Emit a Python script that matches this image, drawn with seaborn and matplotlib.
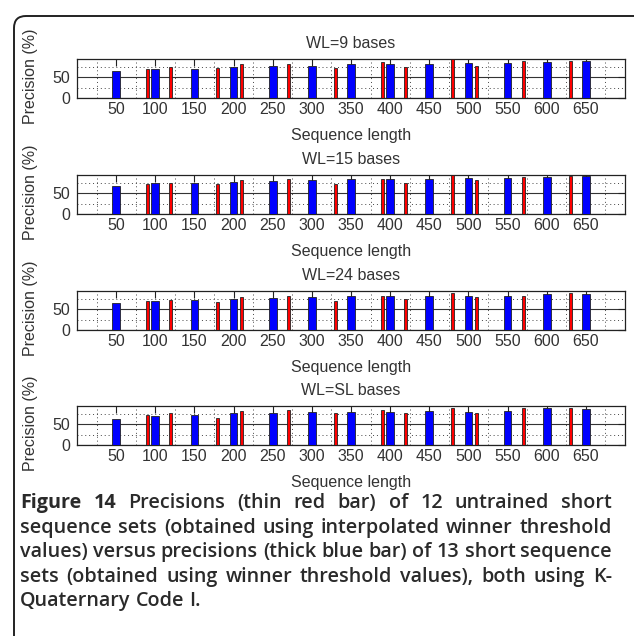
import matplotlib
matplotlib.use("Agg")
import matplotlib.pyplot as plt
from matplotlib.path import Path
from matplotlib.patches import PathPatch
import numpy as np
import seaborn as sns

sns.set_theme(style="white")
plt.rcParams['font.family'] = ['Liberation Sans', 'DejaVu Sans']

# ---- data ------------------------------------------------------------------
SET_LENGTHS = [50, 100, 150, 200, 250, 300, 350, 400, 450, 500, 550, 600, 650]
UNTRAINED_LENGTHS = [90, 120, 180, 210, 270, 330, 390, 420, 480, 510, 570, 630]

WL9_BLUE = [65, 71, 71, 75, 77, 79, 83, 83, 83, 85, 85, 87, 89]
WL9_RED = [70, 75, 72, 83, 83, 72, 87, 75, 94, 79, 90, 90]
WL15_BLUE = [67, 75, 75, 78, 80, 83, 85, 85, 85, 87, 87, 90, 92]
WL15_RED = [73, 75, 73, 83, 85, 73, 85, 75, 96, 83, 90, 92]
WL24_BLUE = [65, 70, 73, 75, 77, 80, 82, 82, 82, 84, 84, 87, 88]
WL24_RED = [70, 73, 67, 80, 82, 70, 84, 75, 89, 80, 84, 89]
WLSL_BLUE = [64, 71, 74, 77, 77, 81, 81, 81, 84, 81, 84, 89, 87]
WLSL_RED = [74, 77, 66, 84, 86, 77, 86, 77, 91, 79, 89, 91]

TITLES = ["WL=9 bases", "WL=15 bases", "WL=24 bases", "WL=SL bases"]
BLUES = [WL9_BLUE, WL15_BLUE, WL24_BLUE, WLSL_BLUE]
REDS = [WL9_RED, WL15_RED, WL24_RED, WLSL_RED]

CAPTION = [
    [("Figure", "bold"), ("14", "bold"), ("Precisions", "semibold"), ("(thin", "semibold"),
     ("red", "semibold"), ("bar)", "semibold"), ("of", "semibold"), ("12", "semibold"),
     ("untrained", "semibold"), ("short", "semibold")],
    "sequence sets (obtained using interpolated winner threshold",
    "values) versus precisions (thick blue bar) of 13 short sequence",
    "sets (obtained using winner threshold values), both using K-",
    "Quaternary Code I.",
]

W, H = 634, 636
TXT = '#333333'
FS = 11.5

fig = plt.figure(figsize=(W / 100, H / 100), dpi=100)

# panels
panel_tops = [59, 175, 291, 406]
ax_h = 39
for top, title, blue, red in zip(panel_tops, TITLES, BLUES, REDS):
    ax = fig.add_axes([77 / W, 1 - (top + ax_h) / H, 548 / W, ax_h / H])
    ax.set_axisbelow(True)
    sns.barplot(x=SET_LENGTHS, y=blue, native_scale=True, width=0.2,
                color='#0000ff', saturation=1, edgecolor='#222222',
                linewidth=0.6, errorbar=None, ax=ax, zorder=3)
    sns.barplot(x=UNTRAINED_LENGTHS, y=red, native_scale=True, width=0.13,
                color='#ff0000', saturation=1, edgecolor='#222222',
                linewidth=0.6, errorbar=None, ax=ax, zorder=3)
    ax.set_xlim(0, 700)
    ax.set_ylim(0, 95)
    ax.set_xticks(SET_LENGTHS)
    ax.set_xticklabels([str(v) for v in SET_LENGTHS])
    ax.set_yticks([0, 50])
    ax.set_xticks(np.arange(25, 700, 50), minor=True)
    ax.set_yticks([25, 75], minor=True)
    ax.grid(False)
    ax.grid(which='minor', linestyle=(0, (1, 3)), color='#444444', linewidth=0.7)
    ax.yaxis.grid(True, which='major', linestyle='-', color='#333333', linewidth=0.8)
    ax.tick_params(which='major', direction='in', top=True, right=True, length=5,
                   width=0.8, color='#222222', labelsize=FS, labelcolor=TXT, pad=5)
    ax.tick_params(axis='x', which='major', pad=3)
    ax.tick_params(which='minor', length=0)
    for s in ax.spines.values():
        s.set_visible(True)
        s.set_color('#222222')
        s.set_linewidth(0.9)
    ax.set_title(title, fontsize=FS, color=TXT, pad=8)
    ax.set_xlabel("Sequence length", fontsize=FS, color=TXT, labelpad=8)
    ax.set_ylabel("Precision (%)", fontsize=FS, color=TXT)
    ax.yaxis.set_label_coords(-0.072, 0.55)

# rounded frame (only top and left sides are visible)
fx = lambda px: px / W
fy = lambda py: 1 - py / H
verts = [(fx(14), fy(640)), (fx(14), fy(28)), (fx(14), fy(16)), (fx(26), fy(16)), (fx(640), fy(16))]
codes = [Path.MOVETO, Path.LINETO, Path.CURVE3, Path.CURVE3, Path.LINETO]
fig.patches.append(PathPatch(Path(verts, codes), transform=fig.transFigure,
                             fill=False, edgecolor='#222222', linewidth=1.4))

# caption, justified
renderer = fig.canvas.get_renderer()
x0, x1 = 20, 612
cap_family = ['Open Sans', 'DejaVu Sans']


def words_of(line):
    if isinstance(line, str):
        return [(w, "semibold") for w in line.split()]
    return line


def measure(s, wt, size):
    t = fig.text(0, 0, s, fontweight=wt, fontsize=size, family=cap_family)
    wd = t.get_window_extent(renderer).width
    t.remove()
    return wd


def space_w(size):
    return measure("a a", "semibold", size) - measure("aa", "semibold", size)


# largest size at which every justified line still fits with ordinary spacing
base = 12
fits = []
for line in CAPTION[:-1]:
    ws = words_of(line)
    natural = sum(measure(w, wt, base) for w, wt in ws) + space_w(base) * (len(ws) - 1)
    fits.append(base * (x1 - x0) / natural)
cap_size = min(fits)

cap_kw = dict(fontsize=cap_size, color='#2a2a2a', family=cap_family, va='baseline')
line_ys = [508, 533, 557, 582, 606]
space = space_w(cap_size)
for i, (line, y) in enumerate(zip(CAPTION, line_ys)):
    words = words_of(line)
    widths = [measure(w, wt, cap_size) for w, wt in words]
    if i == len(CAPTION) - 1:
        gap = space
    else:
        gap = (x1 - x0 - sum(widths)) / (len(words) - 1)
    x = x0
    for (w, wt), wd in zip(words, widths):
        fig.text(fx(x), fy(y), w, fontweight=wt, ha='left', **cap_kw)
        x += wd + gap

fig.savefig('out.png', dpi=100)
